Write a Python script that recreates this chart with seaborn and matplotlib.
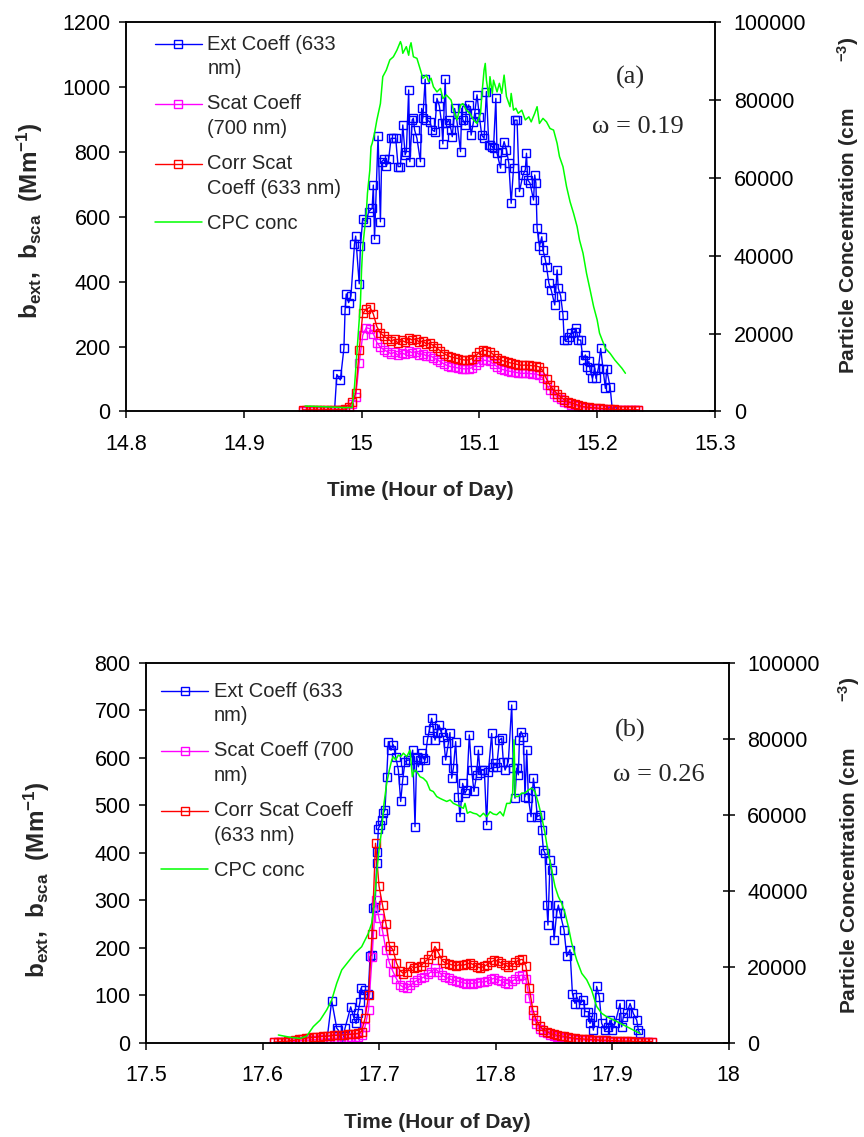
import matplotlib
matplotlib.use("Agg")
import numpy as np
import pandas as pd
import seaborn as sns
import matplotlib.pyplot as plt
from matplotlib.legend_handler import HandlerLine2D

# ---------------- data : panel (a) ----------------
ext_a = [(14.977, 0), (14.979, 114), (14.982, 97), (14.985, 194), (14.986, 312), (14.987, 362),
         (14.989, 335), (14.991, 356), (14.994, 516), (14.995, 540), (14.998, 393), (14.999, 508),
         (15.001, 592), (15.004, 584), (15.006, 615), (15.009, 626), (15.010, 697), (15.011, 530),
         (15.014, 848), (15.016, 584), (15.017, 769), (15.019, 776), (15.021, 756), (15.023, 776),
         (15.025, 841), (15.027, 841), (15.029, 841), (15.031, 754), (15.033, 754), (15.035, 882),
         (15.037, 790), (15.038, 800), (15.040, 990), (15.041, 769), (15.043, 898), (15.044, 903),
         (15.045, 867), (15.047, 841), (15.050, 769), (15.051, 933), (15.052, 903), (15.054, 1023),
         (15.055, 898), (15.058, 892), (15.060, 867), (15.062, 862), (15.064, 964), (15.066, 941),
         (15.068, 887), (15.069, 824), (15.071, 1023), (15.072, 887), (15.074, 898), (15.076, 867),
         (15.077, 846), (15.079, 933), (15.081, 892), (15.084, 800), (15.085, 933), (15.086, 898),
         (15.088, 882), (15.089, 928), (15.091, 944), (15.093, 851), (15.095, 892), (15.096, 918),
         (15.098, 975), (15.100, 908), (15.102, 851), (15.104, 841), (15.106, 985), (15.108, 821),
         (15.109, 821), (15.111, 815), (15.112, 810), (15.114, 964), (15.115, 795), (15.118, 749),
         (15.119, 800), (15.121, 831), (15.123, 805), (15.125, 764), (15.127, 641), (15.129, 749),
         (15.130, 897), (15.132, 897), (15.134, 677), (15.137, 728), (15.139, 744), (15.140, 795),
         (15.141, 713), (15.143, 703), (15.146, 651), (15.147, 728), (15.148, 703), (15.149, 564),
         (15.151, 508), (15.153, 538), (15.154, 497), (15.156, 467), (15.157, 446), (15.159, 395),
         (15.161, 374), (15.164, 328), (15.166, 436), (15.167, 379), (15.169, 356), (15.171, 297),
         (15.172, 220), (15.174, 220), (15.176, 230), (15.178, 241), (15.181, 246), (15.182, 256),
         (15.184, 220), (15.186, 220), (15.188, 159), (15.190, 174), (15.191, 138), (15.193, 154),
         (15.194, 128), (15.196, 102), (15.198, 133), (15.199, 102), (15.201, 133), (15.203, 194),
         (15.205, 130), (15.207, 71), (15.208, 130), (15.211, 76), (15.213, 0)]

neph_a_t = [14.950, 14.953, 14.956, 14.959, 14.962, 14.965, 14.968, 14.971, 14.974, 14.977, 14.980, 14.983,
            14.986, 14.989, 14.992, 14.995, 14.998, 15.001, 15.004, 15.007, 15.010, 15.013, 15.016, 15.019,
            15.022, 15.025, 15.028, 15.031, 15.034, 15.037, 15.040, 15.043, 15.046, 15.049, 15.052, 15.055,
            15.058, 15.061, 15.064, 15.067, 15.070, 15.073, 15.076, 15.079, 15.082, 15.085, 15.088, 15.091,
            15.094, 15.097, 15.100, 15.103, 15.106, 15.109, 15.112, 15.115, 15.118, 15.121, 15.124, 15.127,
            15.130, 15.133, 15.136, 15.139, 15.142, 15.145, 15.148, 15.151, 15.154, 15.157, 15.160, 15.163,
            15.166, 15.169, 15.172, 15.175, 15.178, 15.181, 15.184, 15.187, 15.190, 15.193, 15.196, 15.199,
            15.202, 15.205, 15.208, 15.211, 15.214, 15.217, 15.220, 15.223, 15.226, 15.229, 15.232, 15.235]

corr_a = [5, 5, 5, 5, 5, 5, 5, 6, 5, 5, 6, 6,
          8, 14, 30, 56, 189, 302, 315, 321, 300, 261, 241, 232,
          224, 216, 222, 210, 219, 214, 226, 220, 224, 213, 217, 208,
          210, 203, 195, 186, 178, 172, 168, 165, 163, 160, 158, 159,
          163, 172, 182, 189, 187, 184, 175, 166, 158, 155, 152, 149,
          147, 144, 142, 143, 142, 141, 140, 137, 125, 100, 80, 66,
          55, 45, 36, 30, 26, 24, 19, 16, 14, 13, 12, 11,
          10, 9, 8, 7, 7, 6, 6, 6, 5, 5, 5, 5]

scat_a = [3, 3, 3, 3, 3, 3, 3, 3, 3, 3, 4, 4,
          5, 9, 22, 45, 150, 235, 258, 255, 240, 212, 198, 190,
          184, 178, 182, 173, 180, 176, 186, 181, 184, 175, 178, 171,
          172, 166, 160, 153, 146, 141, 138, 136, 134, 132, 131, 132,
          135, 143, 152, 158, 157, 154, 146, 138, 131, 128, 125, 123,
          121, 119, 117, 118, 117, 116, 115, 112, 102, 82, 65, 54,
          45, 37, 30, 25, 21, 19, 16, 13, 11, 10, 9, 9,
          8, 7, 6, 6, 5, 5, 5, 4, 4, 4, 4, 4]

cpc_a = [(14.952, 1400), (14.970, 1200), (14.985, 1000), (14.992, 1000), (14.994, 6400), (14.996, 14900),
         (14.999, 27700), (15.000, 36300), (15.001, 42300), (15.004, 50800), (15.005, 56000), (15.007, 61900),
         (15.008, 67900), (15.009, 68800), (15.011, 71400), (15.013, 74800), (15.016, 79000), (15.018, 85900),
         (15.021, 87600), (15.024, 90200), (15.027, 91000), (15.030, 92700), (15.033, 94900), (15.034, 94000),
         (15.035, 91900), (15.038, 93600), (15.040, 91400), (15.041, 93600), (15.042, 94600), (15.044, 91000),
         (15.047, 90600), (15.050, 87600), (15.052, 85500), (15.055, 86300), (15.057, 84600), (15.059, 85500),
         (15.061, 83300), (15.064, 82000), (15.067, 82900), (15.069, 80300), (15.072, 81200), (15.076, 79900),
         (15.078, 77300), (15.081, 74800), (15.084, 78600), (15.086, 79000), (15.089, 77300), (15.092, 76500),
         (15.095, 74800), (15.098, 73900), (15.101, 76500), (15.102, 80800), (15.104, 87600), (15.105, 89300),
         (15.106, 85000), (15.108, 80800), (15.109, 85900), (15.111, 81600), (15.112, 85000), (15.115, 82000),
         (15.117, 84200), (15.119, 81600), (15.121, 86300), (15.123, 80800), (15.126, 78200), (15.127, 81600),
         (15.129, 77300), (15.131, 77800), (15.133, 76500), (15.136, 77300), (15.139, 74800), (15.142, 75600),
         (15.144, 74300), (15.147, 76500), (15.149, 78200), (15.151, 73900), (15.154, 75200), (15.157, 74300),
         (15.160, 72600), (15.163, 72200), (15.166, 68800), (15.168, 65400), (15.171, 62800), (15.174, 57700),
         (15.177, 53800), (15.180, 50800), (15.183, 47400), (15.185, 44000), (15.188, 40600), (15.191, 35400),
         (15.194, 31200), (15.197, 26900), (15.200, 23500), (15.202, 20100), (15.207, 16200), (15.211, 14900),
         (15.215, 13200), (15.221, 11100), (15.224, 9800)]

# ---------------- data : panel (b) ----------------
ext_b = [(17.655, 0), (17.6594, 89), (17.6637, 31), (17.6651, 27), (17.6680, -10), (17.6708, 31),
         (17.6757, 76), (17.6785, 52), (17.6803, 41), (17.6817, 62), (17.6837, 87), (17.6845, 115),
         (17.6865, 104), (17.6880, 111), (17.6908, 104), (17.6923, 182), (17.6937, 185), (17.6946, 283),
         (17.6966, 287), (17.6980, 378), (17.6986, 402), (17.6994, 451), (17.7009, 458), (17.7023, 469),
         (17.7037, 483), (17.7051, 490), (17.7066, 560), (17.7080, 634), (17.7103, 616), (17.7123, 627),
         (17.7143, 602), (17.7166, 574), (17.7186, 508), (17.7203, 553), (17.7223, 592), (17.7246, 595),
         (17.7266, 595), (17.7289, 616), (17.7309, 455), (17.7323, 602), (17.7338, 581), (17.7352, 595),
         (17.7366, 609), (17.7380, 599), (17.7395, 595), (17.7415, 637), (17.7432, 658), (17.7452, 683),
         (17.7466, 662), (17.7481, 637), (17.7495, 651), (17.7515, 669), (17.7532, 655), (17.7552, 644),
         (17.7572, 595), (17.7595, 630), (17.7609, 653), (17.7624, 557), (17.7638, 578), (17.7658, 634),
         (17.7681, 518), (17.7695, 476), (17.7718, 546), (17.7738, 525), (17.7752, 532), (17.7775, 648),
         (17.7795, 574), (17.7815, 529), (17.7838, 564), (17.7853, 616), (17.7867, 567), (17.7881, 574),
         (17.7904, 574), (17.7924, 459), (17.7939, 571), (17.7967, 651), (17.7981, 581), (17.7996, 588),
         (17.8010, 581), (17.8033, 637), (17.8053, 641), (17.8067, 592), (17.8082, 574), (17.8110, 592),
         (17.8139, 711), (17.8153, 578), (17.8167, 515), (17.8182, 578), (17.8196, 564), (17.8205, 637),
         (17.8219, 655), (17.8239, 644), (17.8253, 518), (17.8268, 616), (17.8282, 515), (17.8305, 476),
         (17.8325, 557), (17.8339, 529), (17.8359, 476), (17.8382, 480), (17.8396, 448), (17.8411, 406),
         (17.8425, 399), (17.8440, 290), (17.8450, 248), (17.8468, 385), (17.8482, 364), (17.8502, 217),
         (17.8525, 273), (17.8539, 290), (17.8554, 273), (17.8588, 238), (17.8611, 182), (17.8639, 196),
         (17.8660, 104), (17.8682, 83), (17.8697, 97), (17.8725, 83), (17.8754, 90), (17.8768, 66),
         (17.8797, 66), (17.8811, 41), (17.8825, 55), (17.8840, 27), (17.8868, 119), (17.8891, 97),
         (17.8911, 41), (17.8940, 27), (17.8969, 34), (17.8983, 48), (17.8997, 27), (17.9026, 41),
         (17.9069, 83), (17.9083, 34), (17.9097, 55), (17.9126, 62), (17.9155, 83), (17.9183, 62),
         (17.9212, 48), (17.9226, 27), (17.9240, 20)]

neph_b_t = [17.610, 17.613, 17.616, 17.619, 17.622, 17.625, 17.628, 17.631, 17.634, 17.637, 17.640, 17.643,
            17.646, 17.649, 17.652, 17.655, 17.658, 17.661, 17.664, 17.667, 17.670, 17.673, 17.676, 17.679,
            17.682, 17.685, 17.688, 17.691, 17.694, 17.697, 17.700, 17.703, 17.706, 17.709, 17.712, 17.715,
            17.718, 17.721, 17.724, 17.727, 17.730, 17.733, 17.736, 17.739, 17.742, 17.745, 17.748, 17.751,
            17.754, 17.757, 17.760, 17.763, 17.766, 17.769, 17.772, 17.775, 17.778, 17.781, 17.784, 17.787,
            17.790, 17.793, 17.796, 17.799, 17.802, 17.805, 17.808, 17.811, 17.814, 17.817, 17.820, 17.823,
            17.826, 17.829, 17.832, 17.835, 17.838, 17.841, 17.844, 17.847, 17.850, 17.853, 17.856, 17.859,
            17.862, 17.865, 17.868, 17.871, 17.874, 17.877, 17.880, 17.883, 17.886, 17.889, 17.892, 17.895,
            17.898, 17.901, 17.904, 17.907, 17.910, 17.913, 17.916, 17.919, 17.922, 17.925, 17.928, 17.931,
            17.934]

corr_b = [2, 2, 3, 3, 4, 5, 6, 8, 9, 10, 11, 12,
          12, 13, 14, 14, 15, 16, 16, 17, 17, 18, 18, 19,
          20, 24, 52, 100, 230, 420, 330, 290, 250, 205, 196, 168,
          152, 146, 150, 162, 158, 160, 162, 170, 176, 185, 203, 190,
          174, 168, 166, 164, 162, 165, 163, 166, 168, 165, 160, 158,
          161, 165, 170, 174, 172, 168, 165, 160, 163, 170, 174, 176,
          162, 115, 70, 48, 36, 28, 24, 20, 18, 16, 15, 14,
          12, 11, 10, 9, 9, 8, 8, 7, 7, 6, 6, 6,
          5, 5, 5, 4, 4, 4, 4, 3, 3, 3, 3, 3,
          3]

scat_b = [1, 1, 1, 1, 1, 2, 3, 4, 5, 6, 6, 7,
          7, 8, 8, 9, 9, 10, 10, 10, 11, 11, 12, 12,
          13, 16, 34, 70, 180, 300, 262, 236, 195, 168, 150, 135,
          122, 117, 115, 121, 128, 132, 136, 139, 145, 150, 157, 150,
          143, 138, 136, 132, 131, 129, 127, 125, 126, 125, 127, 129,
          128, 130, 134, 136, 133, 131, 126, 125, 130, 134, 141, 143,
          135, 95, 58, 40, 30, 24, 20, 17, 15, 13, 12, 11,
          10, 9, 8, 7, 7, 6, 6, 5, 5, 5, 4, 4,
          4, 3, 3, 3, 3, 2, 2, 2, 2, 2, 2, 2,
          2]

cpc_b = [(17.6136, 2100), (17.6236, 1500), (17.6322, 1200), (17.6379, 1800), (17.6436, 4300), (17.6494, 6000),
         (17.6551, 8700), (17.6594, 11300), (17.6637, 15700), (17.6680, 19200), (17.6737, 21400), (17.6794, 23600),
         (17.6851, 25300), (17.6908, 28800), (17.6937, 31500), (17.6957, 35900), (17.6980, 44600), (17.7000, 50800),
         (17.7023, 56000), (17.7043, 63000), (17.7066, 68300), (17.7089, 71800), (17.7109, 74400), (17.7123, 75300),
         (17.7143, 74400), (17.7166, 75700), (17.7186, 75300), (17.7209, 76200), (17.7238, 75300), (17.7266, 77000),
         (17.7286, 70000), (17.7303, 71800), (17.7323, 71400), (17.7352, 70000), (17.7380, 69600), (17.7409, 68700),
         (17.7438, 66500), (17.7466, 66100), (17.7495, 64800), (17.7524, 64300), (17.7552, 63900), (17.7581, 63500),
         (17.7610, 63900), (17.7638, 63000), (17.7667, 62600), (17.7695, 62200), (17.7724, 61700), (17.7738, 63000),
         (17.7758, 60400), (17.7781, 60800), (17.7810, 60400), (17.7838, 60200), (17.7867, 59500), (17.7896, 60400),
         (17.7924, 59500), (17.7953, 60800), (17.7981, 60200), (17.8010, 60000), (17.8039, 60800), (17.8067, 59700),
         (17.8096, 63000), (17.8125, 63000), (17.8147, 65700), (17.8159, 79700), (17.8170, 64800), (17.8196, 64800),
         (17.8225, 65700), (17.8253, 65700), (17.8282, 66500), (17.8310, 67000), (17.8339, 66100), (17.8368, 63000),
         (17.8396, 59500), (17.8425, 55100), (17.8453, 49900), (17.8482, 45500), (17.8511, 41100), (17.8539, 38500),
         (17.8568, 36700), (17.8597, 34100), (17.8625, 30600), (17.8654, 26200), (17.8697, 21800), (17.8740, 18300),
         (17.8783, 16600), (17.8825, 13900), (17.8868, 9600), (17.8911, 7800), (17.8954, 6900), (17.9011, 6100),
         (17.9069, 5200), (17.9126, 4300), (17.9183, 3400), (17.9240, 2500)]

# ---------------- axis text ----------------
xticks_a = [14.8, 14.9, 15.0, 15.1, 15.2, 15.3]
xticklabels_a = ["14.8", "14.9", "15", "15.1", "15.2", "15.3"]
yticks_a = [0, 200, 400, 600, 800, 1000, 1200]
xticks_b = [17.5, 17.6, 17.7, 17.8, 17.9, 18.0]
xticklabels_b = ["17.5", "17.6", "17.7", "17.8", "17.9", "18"]
yticks_b = [0, 100, 200, 300, 400, 500, 600, 700, 800]
y2ticks = [0, 20000, 40000, 60000, 80000, 100000]
labels_a = ["Ext Coeff (633\nnm)", "Scat Coeff\n(700 nm)", "Corr Scat\nCoeff (633 nm)", "CPC conc"]
labels_b = ["Ext Coeff (633\nnm)", "Scat Coeff (700\nnm)", "Corr Scat Coeff\n(633 nm)", "CPC conc"]

BLUE, MAGENTA, RED, GREEN = "#0000ff", "#ff00ff", "#ff0000", "#00ff00"

sns.set_style("ticks")
plt.rcParams["font.family"] = ["Liberation Sans", "DejaVu Sans"]
plt.rcParams["mathtext.fontset"] = "custom"
plt.rcParams["mathtext.rm"] = "Liberation Sans"
plt.rcParams["mathtext.bf"] = "Liberation Sans:bold"
plt.rcParams["mathtext.it"] = "Liberation Sans:italic"

TICK_FS = 15.5
LAB_FS = 15
YLAB_FS = 17.5
LEG_FS = 14.5
MS, MEW, LW = 6.2, 1.0, 1.0


class FirstLineHandler(HandlerLine2D):
    """Put the legend swatch at the height of the first label line."""
    def __init__(self, shift, **kw):
        super().__init__(**kw)
        self.shift = shift

    def create_artists(self, legend, orig_handle, xdescent, ydescent, width, height, fontsize, trans):
        return super().create_artists(legend, orig_handle, xdescent, ydescent - 2 * self.shift,
                                      width, height, fontsize, trans)


def mark_series(ax, t, v, color):
    df = pd.DataFrame({"t": list(t), "v": list(v)})
    sns.lineplot(data=df, x="t", y="v", ax=ax, color=color, marker="s", markersize=MS,
                 markerfacecolor="none", markeredgecolor=color, markeredgewidth=MEW,
                 linewidth=LW, estimator=None, sort=False, legend=False)
    return ax.lines[-1]


def panel(fig, rect, ext, neph_t, scat, corr, cpc, ylim, yticks, xlim, xticks, xticklabels,
          labels, tag, tagpos, omega, omegapos, leg_anchor, ylab_xy, y2lab_xy):
    ax = fig.add_axes(rect)
    ax2 = ax.twinx()
    ext_t, ext_v = zip(*ext)
    cpc_t, cpc_v = zip(*cpc)
    n = min(len(neph_t), len(scat), len(corr))
    l_ext = mark_series(ax, ext_t, ext_v, BLUE)
    l_scat = mark_series(ax, neph_t[:n], scat[:n], MAGENTA)
    l_corr = mark_series(ax, neph_t[:n], corr[:n], RED)
    sns.lineplot(data=pd.DataFrame({"t": list(cpc_t), "c": list(cpc_v)}), x="t", y="c", ax=ax2,
                 color=GREEN, linewidth=1.1, estimator=None, sort=False, legend=False)
    l_cpc = ax2.lines[-1]

    ax.set_xlim(*xlim)
    ax.set_ylim(*ylim)
    ax2.set_ylim(0, 100000)
    ax.set_xticks(xticks)
    ax.set_xticklabels(xticklabels)
    ax.set_yticks(yticks)
    ax.set_yticklabels([str(y) for y in yticks])
    ax2.set_yticks(y2ticks)
    ax2.set_yticklabels([str(y) for y in y2ticks])

    for a in (ax, ax2):
        for s in a.spines.values():
            s.set_color("black")
            s.set_linewidth(1.1)
    ax.tick_params(axis="both", direction="out", length=5, width=1.1, colors="black",
                   labelsize=TICK_FS, labelcolor="black")
    ax.tick_params(axis="x", pad=11)
    ax.tick_params(axis="y", pad=6)
    ax2.tick_params(axis="y", direction="inout", length=9, width=1.1, colors="black",
                    labelsize=TICK_FS, labelcolor="black", pad=9)

    ax.set_xlabel("Time (Hour of Day)", fontsize=LAB_FS, fontweight="bold", labelpad=19)
    ax.set_ylabel(r"b$_{\mathbf{ext}}$,  b$_{\mathbf{sca}}$  (Mm$^{\mathbf{-1}}$)",
                  fontsize=YLAB_FS, fontweight="bold")
    ax.yaxis.set_label_coords(*ylab_xy)
    ax2.set_ylabel(r"Particle Concentration (cm        $^{\mathbf{-3}}$)",
                   fontsize=LAB_FS, fontweight="bold")
    ax2.yaxis.set_label_coords(*y2lab_xy)

    ax2.text(tagpos[0], tagpos[1], tag, transform=ax2.transAxes, ha="center", va="center",
             fontsize=19, family="Liberation Serif")
    ax2.text(omegapos[0], omegapos[1], omega, transform=ax2.transAxes, ha="center", va="center",
             fontsize=19, family="Liberation Serif")

    hm = {l_ext: FirstLineHandler(9), l_scat: FirstLineHandler(9), l_corr: FirstLineHandler(9)}
    leg = ax2.legend([l_ext, l_scat, l_corr, l_cpc], labels, loc="upper left",
                     bbox_to_anchor=leg_anchor, frameon=False, fontsize=LEG_FS, handlelength=2.35,
                     handletextpad=0.25, labelspacing=0.8, borderpad=0, borderaxespad=0,
                     numpoints=1, handler_map=hm)
    for txt in leg.get_texts():
        txt.set_linespacing(1.38)
    return ax, ax2


fig = plt.figure(figsize=(8.64, 11.37), dpi=100)
fig.patch.set_facecolor("white")

panel(fig, [0.1458, 0.6381, 0.6817, 0.3428], ext_a, neph_a_t, scat_a, corr_a, cpc_a,
      (0, 1200), yticks_a, (14.8, 15.3), xticks_a, xticklabels_a, labels_a,
      "(a)", (0.856, 0.856), "ω = 0.19", (0.869, 0.730), (0.049, 0.967),
      (-0.138, 0.49), (1.204, 0.53))

panel(fig, [0.1690, 0.0827, 0.6742, 0.3345], ext_b, neph_b_t, scat_b, corr_b, cpc_b,
      (0, 800), yticks_b, (17.5, 18.0), xticks_b, xticklabels_b, labels_b,
      "(b)", (0.831, 0.823), "ω = 0.26", (0.881, 0.705), (0.026, 0.950),
      (-0.162, 0.43), (1.184, 0.52))

fig.savefig("out.png", dpi=100, facecolor="white")
